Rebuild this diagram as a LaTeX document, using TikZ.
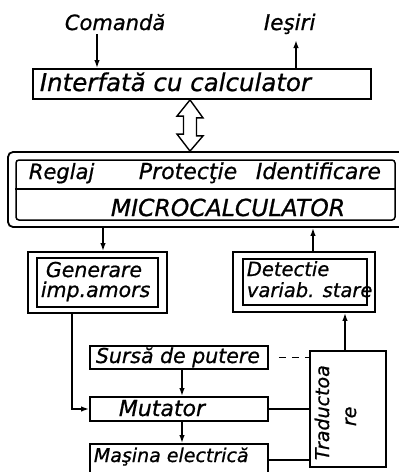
\documentclass[tikz,border=0pt]{standalone}
\usepackage{fontspec}
\setmainfont{DejaVu Sans}[FakeBold=0.8,AutoFakeBold=0.8]
\usetikzlibrary{arrows.meta}
\newcommand\lsz[1]{\fontsize{#1}{#1}\selectfont\itshape\bfseries}
\begin{document}
\begin{tikzpicture}[x=1pt,y=-1pt,line width=1.8pt,
  box/.style={draw,rectangle,inner sep=0pt},
  lbl/.style={inner sep=0pt,anchor=base west},
  tip/.style={-{Latex[length=8pt,width=5.5pt]}}]
\useasboundingbox (0,0) rectangle (399,472);

% --- interface with the host computer
\node[box,minimum width=338pt,minimum height=30pt] (iface) at (202,84) {};
\node[lbl] (tiface) at (39,91) {\lsz{24.5}Interfată cu calculator};
\node[lbl] (tcmd) at (64,30) {\lsz{21}Comandă};
\node[lbl] (tout) at (263,30) {\lsz{21.5}Ieşiri};
\coordinate (cmdin) at (97,34);
\coordinate (outend) at (296,40);
\draw[tip] (cmdin) -- (cmdin |- iface.north);
\draw[tip] (outend |- iface.north) -- (outend);

% --- microcalculator block
\node[box,rounded corners=5pt,minimum width=397pt,minimum height=75pt] (micro) at (206.5,189.5) {};
\node[box,line width=1.5pt,rounded corners=3pt,minimum width=379pt,minimum height=60pt] (core) at (205.5,190) {};
\draw[line width=1.5pt] (core.west |- 0,189) -- (core.east |- 0,189);
\node[lbl] (treg) at (28,179) {\lsz{21}Reglaj};
\node[lbl] (tprot) at (138,179) {\lsz{22}Protecţie};
\node[lbl] (tid) at (255,179) {\lsz{22}Identificare};
\node[lbl] (tmc) at (110,216) {\lsz{23.5}MICROCALCULATOR};

% --- bidirectional bus arrow
\coordinate (bt) at (iface.south -| 190,0);
\coordinate (bb) at (micro.north -| 190,0);
\draw[line width=1.4pt,fill=white]
  (bt) -- ++(13,18) -- ++(-6.5,0) -- ++(0,18) -- ++(6.5,0)
  -- (bb) -- ++(-13,-17) -- ++(6.5,0) -- ++(0,-18) -- ++(-6.5,0) -- cycle;

% --- firing pulse generator and state detection
\node[box,minimum width=139pt,minimum height=61pt] (gen) at (97.5,282.5) {};
\node[box,line width=1.5pt,minimum width=121pt,minimum height=49pt] (geni) at (97.5,282.5) {};
\node[lbl] (tgen1) at (45,277) {\lsz{20.5}Generare};
\node[lbl] (tgen2) at (40,297) {\lsz{20.5}imp.amors};
\node[box,minimum width=142pt,minimum height=60pt] (det) at (304,282) {};
\node[box,line width=1.5pt,minimum width=124pt,minimum height=46pt] (deti) at (305,282) {};
\node[lbl] (tdet1) at (246,276) {\lsz{19.5}Detectie};
\node[lbl] (tdet2) at (246,297) {\lsz{19.5}variab. stare};
\draw[tip] (micro.south -| 103,0) -- (gen.north -| 103,0);
\draw[tip] (det.north -| 313,0) -- (micro.south -| 313,0);

% --- power section
\node[box,minimum width=178pt,minimum height=23pt] (src) at (179,357.5) {};
\node[lbl] (tsrc) at (95,363) {\lsz{20.5}Sursă de putere};
\node[box,minimum width=178pt,minimum height=24pt] (mut) at (179,409) {};
\node[lbl] (tmut) at (118,416) {\lsz{22}Mutator};
\node[box,minimum width=178pt,minimum height=46pt] (mas) at (179,467) {};
\node[lbl] (tmas) at (93,462) {\lsz{19}Maşina electrică};
\draw[tip] (src.south -| 182,0) -- (mut.north -| 182,0);
\draw[tip] (mut.south -| 182,0) -- (mas.north -| 182,0);
\draw[tip] (gen.south -| 72,0) |- (mut.west);

% --- transducer
\node[box,minimum width=76pt,minimum height=116pt] (trad) at (348,409) {};
\node[lbl,rotate=90] (ttr1) at (329,461) {\lsz{19}Traductoa};
\node[lbl,rotate=90] (ttr2) at (356,427) {\lsz{19}re};
\draw[tip] (trad.north -| 345,0) -- (det.south -| 345,0);
\draw[dash pattern=on 7pt off 6pt] (src.east) ++(10,0) -- (trad.west |- src.east);
\draw (mut.east) -- (trad.west |- mut.east);
\draw (mas.east |- 0,460) -- (trad.west |- 0,460);
\end{tikzpicture}
\end{document}
